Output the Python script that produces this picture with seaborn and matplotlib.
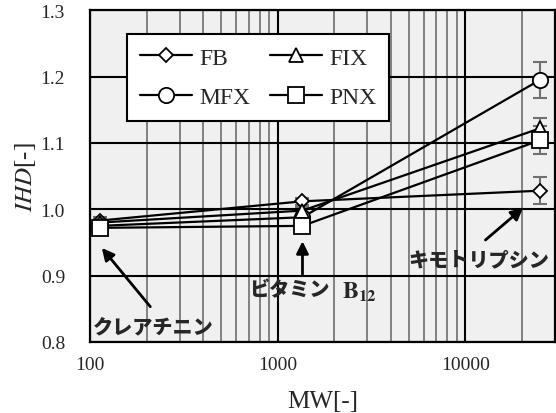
import numpy as np
import pandas as pd
import matplotlib
matplotlib.use("Agg")
import matplotlib.pyplot as plt
import matplotlib.ticker as mticker
import seaborn as sns

# 分子量 (クレアチニン, ビタミンB12, キモトリプシン)
mw = [113, 1355, 25000]
series = ["FB", "MFX", "FIX", "PNX"]
ihd_fb = [0.983, 1.012, 1.028]
ihd_mfx = [0.975, 0.988, 1.195]
ihd_fix = [0.980, 0.998, 1.122]
ihd_pnx = [0.972, 0.975, 1.104]
err_fb = [0.005, 0.005, 0.020]
err_mfx = [0.005, 0.005, 0.027]
err_fix = [0.005, 0.005, 0.016]
err_pnx = [0.005, 0.005, 0.021]
markers = {"FB": "D", "MFX": "o", "FIX": "^", "PNX": "s"}
msizes = {"FB": 7.5, "MFX": 11, "FIX": 10, "PNX": 11}

df = pd.DataFrame({
    "MW": mw * 4,
    "IHD": ihd_fb + ihd_mfx + ihd_fix + ihd_pnx,
    "err": err_fb + err_mfx + err_fix + err_pnx,
    "series": [s for s in series for _ in mw],
})

sns.set_theme(style="white")
plt.rcParams["font.family"] = ["Liberation Serif", "DejaVu Serif"]
plt.rcParams["mathtext.fontset"] = "stix"

fig = plt.figure(figsize=(5.56, 4.14), dpi=100)
ax = fig.add_axes([0.162, 0.1715, 0.836, 0.8015])
ax.set_facecolor("#f0f0f0")

for s in series:
    d = df[df["series"] == s]
    ax.errorbar(d["MW"], d["IHD"], yerr=d["err"], fmt="none",
                ecolor="#707070", elinewidth=1.5, capsize=5, capthick=1.5, zorder=2)
for s in series:
    d = df[df["series"] == s]
    sns.lineplot(data=d, x="MW", y="IHD", ax=ax, color="black", lw=1.6,
                 marker=markers[s], markersize=msizes[s], markerfacecolor="white",
                 markeredgecolor="black", markeredgewidth=1.3, label=s, zorder=3)

ax.set_xscale("log")
ax.set_xlim(100, 30000)
ax.set_ylim(0.8, 1.3)
ax.yaxis.set_major_locator(mticker.MultipleLocator(0.1))
ax.yaxis.set_major_formatter(mticker.FormatStrFormatter("%.1f"))
ax.xaxis.set_major_locator(mticker.FixedLocator([100, 1000, 10000]))
ax.xaxis.set_major_formatter(mticker.FuncFormatter(lambda v, _: f"{int(v)}"))
ax.xaxis.set_minor_locator(mticker.LogLocator(base=10, subs=np.arange(2, 10)))
ax.xaxis.set_minor_formatter(mticker.NullFormatter())
ax.grid(True, which="major", color="black", lw=1.5, zorder=0)
ax.grid(True, which="minor", axis="x", color="#808080", lw=1.4, zorder=0)
ax.set_axisbelow(True)
ax.tick_params(which="both", length=0, labelsize=14)
ax.tick_params(axis="y", pad=18)
ax.tick_params(axis="x", pad=10)
for sp in ax.spines.values():
    sp.set_color("black")
    sp.set_linewidth(1.6)

ax.set_xlabel("MW[-]", fontsize=18, labelpad=12)
ax.set_ylabel(r"$\mathit{IHD}$[-]", fontsize=18, labelpad=2)

leg = ax.legend(ncol=2, loc="upper left", bbox_to_anchor=(0.08, 0.928),
                fontsize=17, frameon=True, fancybox=False, handlelength=2.2,
                handletextpad=0.3, columnspacing=0.85, borderpad=0.55,
                labelspacing=0.75, borderaxespad=0)
leg.get_frame().set_edgecolor("black")
leg.get_frame().set_linewidth(1.5)
leg.get_frame().set_alpha(1)

jp = ["Noto Sans CJK JP", "DejaVu Sans"]
arw = dict(arrowstyle="-|>", color="black", lw=2, mutation_scale=18)
ax.annotate("", xy=(113, 0.945), xytext=(214, 0.850), arrowprops=arw)
ax.text(104, 0.823, "クレアチニン", family=jp, fontweight="heavy", fontsize=14.5,
        va="center", ha="left")
ax.annotate("", xy=(1355, 0.956), xytext=(1355, 0.896), arrowprops=arw)
ax.text(700, 0.879, "ビタミン", family=jp, fontweight="heavy", fontsize=14.5,
        va="center", ha="left")
ax.text(2200, 0.877, r"$\mathbf{B}_{\mathbf{12}}$", fontsize=17, va="center", ha="left")
ax.annotate("", xy=(20860, 1.005), xytext=(12470, 0.951), arrowprops=arw)
ax.text(4950, 0.924, "キモトリプシン", family=jp, fontweight="heavy", fontsize=14.5,
        va="center", ha="left")

fig.savefig("out.png", dpi=100)
